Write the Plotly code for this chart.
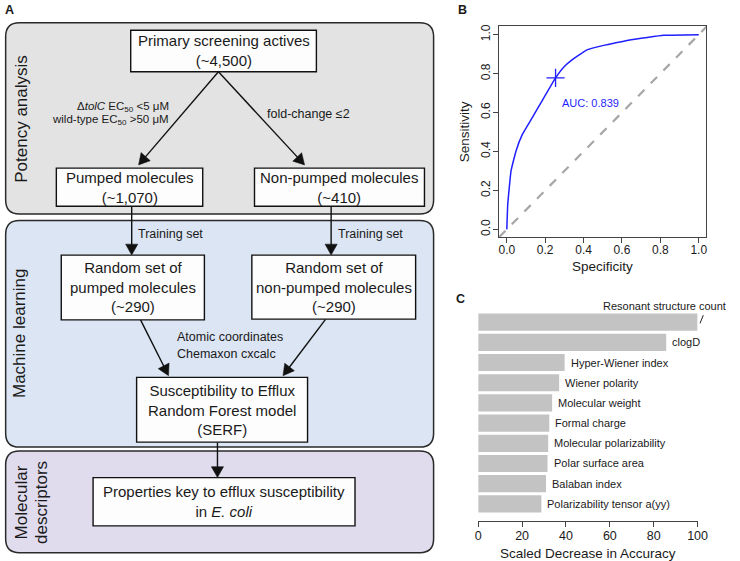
import plotly.graph_objects as go
import math

W, H = 740, 561
FONT = "Arial, Liberation Sans, sans-serif"
TXT = "#1a1a1a"

# ---------------- data ----------------
roc_spec = [0.0, 0.005, 0.022, 0.048, 0.081, 0.132, 0.183, 0.254, 0.301, 0.352, 0.420, 0.505, 0.563, 0.648, 0.817, 1.0]
roc_sens = [0.0, 0.130, 0.300, 0.403, 0.488, 0.573, 0.659, 0.778, 0.838, 0.880, 0.923, 0.945, 0.957, 0.974, 0.997, 1.0]
best_point = (0.254, 0.778)
auc_value = 0.839
roc_ticks = [0.0, 0.2, 0.4, 0.6, 0.8, 1.0]

feature_names = ["Resonant structure count", "clogD", "Hyper-Wiener index", "Wiener polarity",
                 "Molecular weight", "Formal charge", "Molecular polarizability",
                 "Polar surface area", "Balaban index", "Polarizability tensor a(yy)"]
feature_importance = [100.0, 85.7, 39.4, 36.9, 33.7, 32.4, 31.9, 31.6, 30.9, 28.8]
importance_ticks = [0, 20, 40, 60, 80, 100]


def X(px):
    return px / W


def Y(py):
    return 1 - py / H


fig = go.Figure()

# ---------------- Panel B: ROC ----------------
fig.add_trace(go.Scatter(x=[-0.04, 1.04], y=[-0.04, 1.04], mode="lines",
                         line=dict(color="#a6a6a6", width=2.2, dash="dash"),
                         xaxis="x", yaxis="y", showlegend=False, hoverinfo="skip"))
fig.add_trace(go.Scatter(x=roc_spec, y=roc_sens, mode="lines",
                         line=dict(color="#1f1fff", width=1.5, shape="spline", smoothing=0.3),
                         xaxis="x", yaxis="y", showlegend=False))
fig.add_trace(go.Scatter(x=[best_point[0]], y=[best_point[1]], mode="markers",
                         marker=dict(symbol="cross-thin", size=13, line=dict(color="#1f1fff", width=1.3)),
                         xaxis="x", yaxis="y", showlegend=False))

# ---------------- Panel C: importance bars ----------------
fig.add_trace(go.Bar(x=feature_importance, y=feature_names, orientation="h",
                     marker=dict(color="#c3c3c3", line=dict(width=0)), width=0.85,
                     xaxis="x2", yaxis="y2", showlegend=False))

axis_common = dict(showgrid=False, zeroline=False, showline=True, linecolor="#444", linewidth=1,
                   ticks="outside", ticklen=5, tickcolor="#444",
                   tickfont=dict(family=FONT, size=12, color=TXT))

fig.update_layout(
    width=W, height=H, autosize=False, margin=dict(l=0, r=0, t=0, b=0),
    paper_bgcolor="white", plot_bgcolor="white",
    font=dict(family=FONT, color=TXT),
    xaxis=dict(domain=[X(505), X(716)], range=[-0.04, 1.04], anchor="y", mirror=True,
               tickvals=roc_ticks, ticktext=[f"{t:.1f}" for t in roc_ticks], ticklabelstandoff=-4,
               **axis_common),
    yaxis=dict(domain=[Y(236), Y(24)], range=[-0.04, 1.045], anchor="x", mirror=True,
               tickvals=roc_ticks, ticktext=[f"{t:.1f}" for t in roc_ticks], tickangle=-90,
               ticklabelstandoff=-2, **axis_common),
    xaxis2=dict(domain=[X(483.7), X(707)], range=[0, 100], anchor="y2", ticklabelstandoff=-2,
                tickvals=importance_ticks, **{**axis_common, "tickfont": dict(family=FONT, size=12.5, color=TXT)}),
    yaxis2=dict(domain=[Y(520.7), Y(301)], range=[9.84, -1.0], anchor="x2", visible=False,
                type="category", categoryorder="array", categoryarray=feature_names),
    bargap=0.15,
)

shapes = []
ann = []


def rrect(x0, y0, x1, y1, r, fill, lc="#2a2a2a", lw=1.5):
    p = (f"M {X(x0 + r)},{Y(y0)} L {X(x1 - r)},{Y(y0)} Q {X(x1)},{Y(y0)} {X(x1)},{Y(y0 + r)} "
         f"L {X(x1)},{Y(y1 - r)} Q {X(x1)},{Y(y1)} {X(x1 - r)},{Y(y1)} "
         f"L {X(x0 + r)},{Y(y1)} Q {X(x0)},{Y(y1)} {X(x0)},{Y(y1 - r)} "
         f"L {X(x0)},{Y(y0 + r)} Q {X(x0)},{Y(y0)} {X(x0 + r)},{Y(y0)} Z")
    shapes.append(dict(type="path", path=p, xref="paper", yref="paper",
                       fillcolor=fill, line=dict(color=lc, width=lw)))


def box(x0, y0, x1, y1, text, size=15):
    shapes.append(dict(type="rect", xref="paper", yref="paper", x0=X(x0), x1=X(x1), y0=Y(y1), y1=Y(y0),
                       fillcolor="#fdfdfd", line=dict(color="#111", width=1.4)))
    ann.append(dict(x=X((x0 + x1) / 2), y=Y((y0 + y1) / 2), xref="paper", yref="paper", text=text,
                    showarrow=False, xanchor="center", yanchor="middle",
                    font=dict(family=FONT, size=size, color=TXT)))


def arrow(x0, y0, x1, y1, hl=11, hw=6.2):
    dx, dy = x1 - x0, y1 - y0
    L = math.hypot(dx, dy)
    ux, uy = dx / L, dy / L
    bx, by = x1 - ux * hl, y1 - uy * hl
    shapes.append(dict(type="line", xref="paper", yref="paper", x0=X(x0), y0=Y(y0), x1=X(bx + ux), y1=Y(by + uy),
                       line=dict(color="#111", width=1.4)))
    px, py = -uy, ux
    p = (f"M {X(x1)},{Y(y1)} L {X(bx + px * hw)},{Y(by + py * hw)} "
         f"L {X(bx - px * hw)},{Y(by - py * hw)} Z")
    shapes.append(dict(type="path", path=p, xref="paper", yref="paper", fillcolor="#111",
                       line=dict(color="#111", width=0.5)))


def label(x, y, text, size=12, xa="left", ya="middle", angle=0, color=TXT, bold=False):
    ann.append(dict(x=X(x), y=Y(y), xref="paper", yref="paper", text=f"<b>{text}</b>" if bold else text,
                    showarrow=False, xanchor=xa, yanchor=ya, textangle=angle,
                    font=dict(family=FONT, size=size, color=color)))


# outer panels
rrect(2.7, 20.7, 438.3, 212.7, 14, "#e3e3e3")
rrect(2.7, 219.3, 438.3, 446.7, 14, "#dbe5f3")
rrect(2.7, 450.7, 438.3, 552.7, 14, "#e0dcee")

# side labels
label(18.5, 117, "Potency analysis", size=17, xa="center", angle=-90)
label(17.5, 333, "Machine learning", size=17, xa="center", angle=-90)
label(18.5, 502, "Molecular", size=17, xa="center", angle=-90)
label(38.5, 502, "descriptors", size=17, xa="center", angle=-90)

# arrows
arrow(219.3, 70, 138, 163.5)
arrow(219.3, 70, 307, 163.5)
arrow(131, 205, 131, 254)
arrow(334, 205, 334, 254)
arrow(140, 319, 168.5, 375)
arrow(328.5, 318.3, 285, 375)
arrow(218.3, 441.7, 218.3, 477.3)

# boxes
box(130, 28.3, 319, 70, "Primary screening actives<br>(~4,500)")
box(54.3, 166.7, 203.3, 205, "Pumped molecules<br>(~1,070)")
box(256, 166.7, 429, 205, "Non-pumped molecules<br>(~410)")
box(59.3, 254, 205, 319, "Random set of<br>pumped molecules<br>(~290)")
box(253.3, 254, 420, 318.3, "Random set of<br>non-pumped molecules<br>(~290)")
box(136, 376.7, 310, 441.7, "Susceptibility to Efflux<br>Random Forest model<br>(SERF)")
box(91.7, 477.3, 358.3, 525.7, "Properties key to efflux susceptibility<br>in <i>E. coli</i>")

# edge labels
label(171, 105, "Δ<i>tolC</i> EC<sub>50</sub> &lt;5 μM", size=11.5, xa="right")
label(171, 118.5, "wild-type EC<sub>50</sub> &gt;50 μM", size=11.5, xa="right")
label(266.5, 112.7, "fold-change ≤2", size=12.5)
label(135, 232.7, "Training set", size=12.5)
label(338.5, 232.7, "Training set", size=12.5)
label(175.5, 336.7, "Atomic coordinates", size=12.5)
label(175.5, 353.3, "Chemaxon cxcalc", size=12.5)

# panel letters
label(7, 8, "A", size=12.5, xa="center", bold=True)
label(468, 8, "B", size=12.5, xa="center", bold=True)
label(465.5, 298, "C", size=12.5, xa="center", bold=True)

# Panel B annotations
ann.append(dict(x=0.276, y=0.65, xref="x", yref="y", text=f"AUC: {auc_value:.3f}", showarrow=False,
                xanchor="left", yanchor="middle", font=dict(family=FONT, size=11, color="#1f1fff")))
label(610.5, 265.5, "Specificity", size=13.5, xa="center")
label(470, 130, "Sensitivity", size=13.5, xa="center", angle=-90)

# Panel C bar labels
for i, (n, v) in enumerate(zip(feature_names, feature_importance)):
    if i == 0:
        ann.append(dict(x=v, y=n, xref="x2", yref="y2", text=n, showarrow=False, xanchor="right",
                        yanchor="middle", xshift=30, yshift=16,
                        font=dict(family=FONT, size=11, color=TXT)))
    else:
        ann.append(dict(x=v, y=n, xref="x2", yref="y2", text=n, showarrow=False, xanchor="left",
                        yanchor="middle", xshift=4, font=dict(family=FONT, size=11, color=TXT)))
shapes.append(dict(type="line", xref="paper", yref="paper", x0=X(709.5), y0=Y(322.5), x1=X(712.8), y1=Y(314.3),
                   line=dict(color="#222", width=1)))
label(595.3, 553, "Scaled Decrease in Accuracy", size=13.5, xa="center")

fig.update_layout(shapes=shapes, annotations=ann)
fig.write_html("out.html", config={"displayModeBar": False, "responsive": False},
               post_script=("document.documentElement.style.overflow='hidden';"
                            "document.body.style.overflow='hidden';"
                            "document.body.style.margin='0';document.body.style.padding='0';"))
